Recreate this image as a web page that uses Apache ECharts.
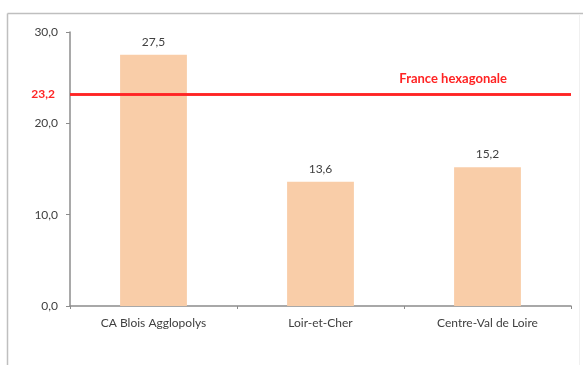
<!DOCTYPE html>
<html>
<head>
<meta charset="utf-8">
<script src="https://cdn.jsdelivr.net/npm/echarts@6/dist/echarts.min.js"></script>
<style>
html,body{margin:0;padding:0;background:#fff;}
#c{width:583px;height:365px;}
</style>
</head>
<body>
<div id="c"></div>
<script>
const categories = ['CA Blois Agglopolys', 'Loir-et-Cher', 'Centre-Val de Loire'];
const values = [27.5, 13.6, 15.2];
const refValue = 23.2;
const refLabel = 'France hexagonale';
const yTicks = [0, 10, 20, 30];

const fmt = v => v.toFixed(1).replace('.', ',');
const chart = echarts.init(document.getElementById('c'));
chart.setOption({
  animation: false,
  textStyle: { fontFamily: 'Lato, "Open Sans", sans-serif' },
  graphic: [
    { type: 'line', silent: true, shape: { x1: 7.5, y1: 13.5, x2: 583, y2: 13.5 }, style: { stroke: '#bfbfbf', lineWidth: 1.5 } },
    { type: 'line', silent: true, shape: { x1: 7.5, y1: 13.5, x2: 7.5, y2: 365 }, style: { stroke: '#bfbfbf', lineWidth: 1.5 } },
    { type: 'line', silent: true, shape: { x1: 579.5, y1: 14, x2: 579.5, y2: 365 }, style: { stroke: '#f0f0f0', lineWidth: 1 } }
  ],
  grid: { left: 70, right: 12, top: 32, bottom: 59 },
  xAxis: {
    type: 'category', data: categories,
    axisLine: { lineStyle: { color: '#8c8c8c', width: 1.5 } },
    axisTick: { show: true, length: 3, lineStyle: { color: '#8c8c8c' } },
    axisLabel: { color: '#404040', fontSize: 12, margin: 11 }
  },
  yAxis: {
    type: 'value', min: yTicks[0], max: yTicks[yTicks.length - 1], interval: 10,
    splitLine: { show: false },
    axisLine: { show: true, lineStyle: { color: '#8c8c8c', width: 1.5 } },
    axisTick: { show: true, length: 4, lineStyle: { color: '#8c8c8c' } },
    axisLabel: { color: '#404040', fontSize: 12, margin: 12, formatter: v => fmt(v) }
  },
  series: [{
    type: 'bar', data: values, barWidth: '40%',
    itemStyle: { color: '#F9CDA8' },
    label: { show: true, position: 'top', color: '#404040', fontSize: 12, distance: 7, formatter: p => fmt(p.value) },
    markLine: {
      silent: true, symbol: 'none',
      lineStyle: { color: '#FF2424', width: 2.5, type: 'solid' },
      data: [
        { yAxis: refValue, label: { show: true, position: 'start', formatter: fmt(refValue), color: '#FF2424', fontSize: 12, fontWeight: 'bold', distance: 15 } },
        { yAxis: refValue, label: { show: true, position: 'insideEndTop', formatter: refLabel, color: '#FF2424', fontSize: 13, fontWeight: 'bold', padding: [0, 59, 4, 0] } }
      ]
    }
  }]
});
</script>
</body>
</html>
